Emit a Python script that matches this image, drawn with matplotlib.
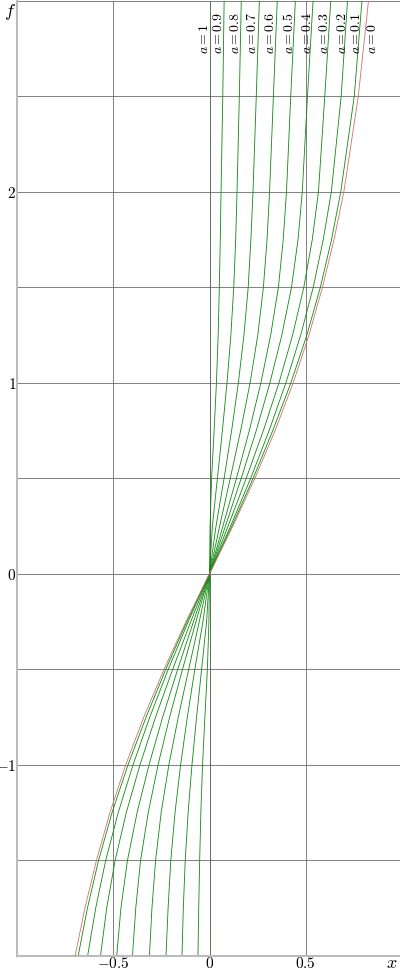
import matplotlib
matplotlib.use("Agg")
import matplotlib.pyplot as plt
import numpy as np

plt.rcParams['mathtext.fontset'] = 'cm'
plt.rcParams['font.family'] = ['DejaVu Serif']

# f levels at which the curves were read
f_vals = [-2.0, -1.75, -1.5, -1.25, -1.0, -0.75, -0.5, -0.25, 0.0,
          0.25, 0.5, 0.75, 1.0, 1.25, 1.5, 1.75, 2.0, 2.5, 3.0]

x_a00 = [-0.698, -0.647, -0.587, -0.517, -0.435, -0.341, -0.236, -0.122, 0,
         0.122, 0.236, 0.341, 0.435, 0.517, 0.587, 0.647, 0.698, 0.773, 0.826]
x_a01 = [-0.682, -0.634, -0.576, -0.506, -0.423, -0.329, -0.227, -0.117, 0,
         0.117, 0.227, 0.329, 0.423, 0.506, 0.576, 0.634, 0.682, 0.752, 0.792]
x_a02 = [-0.633, -0.591, -0.539, -0.474, -0.397, -0.310, -0.214, -0.110, 0,
         0.110, 0.214, 0.310, 0.397, 0.474, 0.539, 0.591, 0.633, 0.684, 0.717]
x_a03 = [-0.566, -0.534, -0.490, -0.432, -0.361, -0.280, -0.191, -0.097, 0,
         0.097, 0.191, 0.280, 0.361, 0.432, 0.490, 0.534, 0.566, 0.599, 0.630]
x_a04 = [-0.482, -0.460, -0.426, -0.376, -0.314, -0.243, -0.165, -0.083, 0,
         0.083, 0.165, 0.243, 0.314, 0.376, 0.426, 0.460, 0.482, 0.509, 0.538]
x_a05 = [-0.400, -0.383, -0.358, -0.318, -0.267, -0.207, -0.140, -0.070, 0,
         0.070, 0.140, 0.207, 0.267, 0.318, 0.358, 0.383, 0.400, 0.422, 0.446]
x_a06 = [-0.312, -0.299, -0.280, -0.251, -0.211, -0.162, -0.108, -0.053, 0,
         0.053, 0.108, 0.162, 0.211, 0.251, 0.280, 0.299, 0.312, 0.332, 0.352]
x_a07 = [-0.226, -0.215, -0.201, -0.179, -0.150, -0.115, -0.076, -0.034, 0,
         0.034, 0.076, 0.115, 0.150, 0.179, 0.201, 0.215, 0.226, 0.243, 0.259]
x_a08 = [-0.143, -0.136, -0.126, -0.111, -0.091, -0.067, -0.041, -0.015, 0,
         0.015, 0.041, 0.067, 0.091, 0.111, 0.126, 0.136, 0.143, 0.155, 0.165]
x_a09 = [-0.060, -0.056, -0.051, -0.045, -0.036, -0.024, -0.011, -0.003, 0,
         0.003, 0.011, 0.024, 0.036, 0.045, 0.051, 0.056, 0.060, 0.069, 0.076]
x_a10 = [0.0] * len(f_vals)

a_labels = ['0', '0.1', '0.2', '0.3', '0.4', '0.5', '0.6', '0.7', '0.8', '0.9', '1']
label_x = [0.846, 0.762, 0.686, 0.595, 0.507, 0.413, 0.314, 0.221, 0.132, 0.046, -0.030]

x_ticks = [-0.5, 0, 0.5]
x_ticklabels = [r'$-0.5$', r'$0$', r'$0.5$']
y_ticks = [-1, 0, 1, 2]
y_ticklabels = [r'$-1$', r'$0$', r'$1$', r'$2$']

fig = plt.figure(figsize=(4.0, 9.72), dpi=100)
ax = fig.add_axes([17/400, 16.3/972, 385/400, 955/972])
ax.set_xlim(-1, 1)
ax.set_ylim(-2, 3)

grid_x = np.arange(-1, 1.01, 0.5)
grid_y = np.arange(-2, 3.01, 0.5)
for gx in grid_x:
    ax.axvline(gx, color='0.42', lw=0.6, zorder=1)
for gy in grid_y:
    ax.axhline(gy, color='0.42', lw=0.6, zorder=1, clip_on=False)

curves = [x_a00, x_a01, x_a02, x_a03, x_a04, x_a05, x_a06, x_a07, x_a08, x_a09, x_a10]
for i, xs in enumerate(curves):
    if i == 0:
        ax.plot(xs, f_vals, color='#d07070', lw=0.6, zorder=3)
    elif i == 10:
        ax.plot(xs, f_vals, color='#008000', lw=0.6, zorder=0.5)
    else:
        ax.plot(xs, f_vals, color='#118811', lw=0.6, zorder=2)

for lab, lx in zip(a_labels, label_x):
    ax.text(lx, 2.72, r'$a=' + lab + '$', rotation=90, ha='center', va='bottom',
            fontsize=10, color='black')

ax.set_xticks(x_ticks)
ax.set_xticklabels(x_ticklabels, fontsize=11)
ax.set_yticks(y_ticks)
ax.set_yticklabels(y_ticklabels, fontsize=11)
ax.tick_params(axis='y', length=0, pad=0.5)
ax.tick_params(axis='x', length=0, pad=0)

for s in ['top', 'right']:
    ax.spines[s].set_visible(False)
for s in ['left', 'bottom']:
    ax.spines[s].set_color('#bbbbbb')
    ax.spines[s].set_linewidth(1.5)

fig.text(392/400, 1 - 963/972, r'$x$', fontsize=13, ha='center', va='center')
fig.text(10/400, 1 - 12/972, r'$f$', fontsize=13, ha='center', va='center')

fig.savefig('out.png', dpi=100)
